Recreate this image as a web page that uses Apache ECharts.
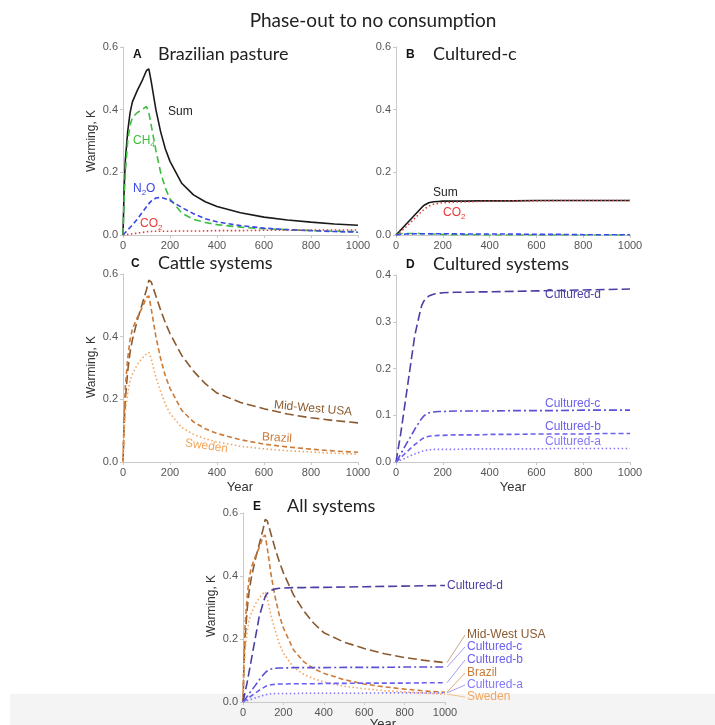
<!DOCTYPE html>
<html><head><meta charset="utf-8">
<script src="https://cdn.jsdelivr.net/npm/echarts@6/dist/echarts.min.js"></script>
<style>html,body{margin:0;padding:0;background:#fff}#c{width:715px;height:725px}</style>
</head><body><div id="c"></div>
<script>
// ---- data ----
const years = [0,5,10,20,30,40,60,80,100,110,120,140,160,180,200,250,300,350,400,500,600,700,800,900,1000];
const xTicks = [0,200,400,600,800,1000];
// Panel A: Brazilian pasture
const aSum = [0,0.15,0.24,0.33,0.39,0.425,0.46,0.49,0.525,0.53,0.49,0.40,0.33,0.275,0.235,0.165,0.128,0.106,0.091,0.071,0.057,0.048,0.041,0.035,0.031];
const aCH4 = [0,0.12,0.2,0.3,0.35,0.375,0.39,0.4,0.41,0.39,0.35,0.27,0.2,0.15,0.115,0.07,0.05,0.04,0.033,0.025,0.02,0.017,0.014,0.012,0.011];
const aN2O = [0,0.004,0.008,0.016,0.024,0.032,0.05,0.07,0.09,0.1,0.108,0.118,0.12,0.116,0.11,0.088,0.068,0.052,0.042,0.03,0.022,0.017,0.014,0.011,0.009];
const aCO2 = [0,0.0005,0.001,0.002,0.003,0.004,0.006,0.008,0.01,0.011,0.011,0.012,0.012,0.012,0.012,0.013,0.013,0.013,0.014,0.014,0.015,0.015,0.016,0.016,0.016];
// Panel B: Cultured-c
const bSum = [0,0.004,0.008,0.016,0.024,0.032,0.048,0.064,0.08,0.088,0.095,0.103,0.106,0.107,0.108,0.108,0.108,0.109,0.109,0.109,0.11,0.11,0.11,0.11,0.11];
const bCO2 = [0,0.002,0.005,0.011,0.017,0.024,0.038,0.053,0.068,0.075,0.082,0.092,0.098,0.101,0.103,0.105,0.106,0.107,0.108,0.109,0.109,0.11,0.11,0.11,0.11];
const bCH4 = [0,0.002,0.003,0.004,0.005,0.005,0.005,0.005,0.005,0.004,0.004,0.003,0.003,0.002,0.002,0.001,0.001,0.001,0,0,0,0,0,0,0];
const bN2O = [0,0.001,0.001,0.002,0.002,0.003,0.003,0.004,0.004,0.004,0.004,0.004,0.004,0.004,0.004,0.004,0.003,0.003,0.003,0.003,0.002,0.002,0.001,0.001,0.001];
// Cattle systems
const midWest = [0,0.12,0.2,0.29,0.35,0.39,0.45,0.5,0.55,0.58,0.575,0.53,0.485,0.445,0.41,0.34,0.29,0.25,0.22,0.19,0.17,0.153,0.141,0.132,0.125];
const brazil = aSum;
const sweden = [0,0.1,0.16,0.22,0.26,0.28,0.31,0.33,0.345,0.35,0.33,0.27,0.225,0.185,0.155,0.11,0.088,0.074,0.064,0.05,0.042,0.036,0.032,0.028,0.025];
// Cultured systems
const culD = [0,0.015,0.03,0.06,0.095,0.13,0.2,0.27,0.315,0.335,0.345,0.355,0.359,0.361,0.362,0.363,0.363,0.364,0.364,0.365,0.366,0.367,0.368,0.369,0.37];
const culC = [0,0.004,0.008,0.017,0.026,0.035,0.052,0.07,0.086,0.093,0.099,0.105,0.107,0.108,0.108,0.109,0.109,0.109,0.109,0.11,0.11,0.11,0.111,0.111,0.111];
const culB = [0,0.002,0.004,0.009,0.014,0.019,0.028,0.037,0.045,0.049,0.052,0.055,0.056,0.057,0.057,0.058,0.058,0.058,0.059,0.059,0.06,0.06,0.06,0.061,0.061];
const culA = [0,0.001,0.002,0.004,0.006,0.008,0.013,0.017,0.021,0.023,0.024,0.026,0.027,0.027,0.027,0.027,0.028,0.028,0.028,0.028,0.028,0.029,0.029,0.029,0.029];

// ---- styles ----
const C = {
  sum:'#1a1a1a', ch4:'#3cbf3c', n2o:'#3a46e8', co2:'#e83a3a',
  mw:'#8a5a2e', br:'#cc7a38', sw:'#f3a55c',
  cd:'#4a3fa2', cc:'#5a4fd6', cb:'#6a5fee', ca:'#8478f5'
};
const pair = v => years.map((y,i)=>[y,v[i]]);
const grids = [
  {left:123, top:47, width:235, height:188},
  {left:396, top:47, width:234, height:188},
  {left:123, top:274, width:235, height:188},
  {left:396, top:275, width:234, height:187},
  {left:243, top:513, width:202, height:189}
];
const yMax = [0.6,0.6,0.6,0.4,0.6];
const yInt = [0.2,0.2,0.2,0.1,0.2];
const axisCol = '#c8c8c8';
const lblCol = '#555';
const xAxis = grids.map((g,i)=>({
  gridIndex:i, type:'value', min:0, max:1000, interval:200,
  axisLine:{lineStyle:{color:axisCol}}, axisTick:{length:3,lineStyle:{color:axisCol}},
  splitLine:{show:false},
  axisLabel:{color:lblCol, fontSize:11, fontFamily:'Liberation Sans', margin:5, formatter:v=>String(v)}
}));
const yAxis = grids.map((g,i)=>({
  gridIndex:i, type:'value', min:0, max:yMax[i], interval:yInt[i],
  axisLine:{show:true, lineStyle:{color:axisCol}}, axisTick:{show:true,length:3,lineStyle:{color:axisCol}},
  splitLine:{show:false},
  axisLabel:{color:lblCol, fontSize:11, fontFamily:'Liberation Sans', margin:5, formatter:v=>v.toFixed(1)}
}));
function S(gi, data, color, type, width){
  return {type:'line', xAxisIndex:gi, yAxisIndex:gi, data:pair(data), showSymbol:false, symbol:'none',
    animation:false, lineStyle:{color:color, width:width||1.6, type:type}, z:3};
}
const LD = [9,4], SD=[5,3], DOT=[1.5,2.5], DD=[8,3,2,3];
const series = [
  S(0,aSum,C.sum,'solid',1.6), S(0,aCH4,C.ch4,[7,4]), S(0,aN2O,C.n2o,SD), S(0,aCO2,C.co2,DOT),
  S(1,bSum,C.sum,'solid',1.6), S(1,bCO2,C.co2,DOT), S(1,bCH4,C.ch4,[7,4]), S(1,bN2O,C.n2o,SD),
  S(2,midWest,C.mw,LD), S(2,brazil,C.br,SD), S(2,sweden,C.sw,DOT),
  S(3,culD,C.cd,LD), S(3,culC,C.cc,DD), S(3,culB,C.cb,SD), S(3,culA,C.ca,DOT),
  S(4,midWest,C.mw,LD), S(4,brazil,C.br,SD), S(4,sweden,C.sw,DOT),
  S(4,culD,C.cd,LD), S(4,culC,C.cc,DD), S(4,culB,C.cb,SD), S(4,culA,C.ca,DOT)
];
const tf = 'Lato';
function T(x,y,text,size,color,extra){
  return Object.assign({type:'text', x:x, y:y, style:Object.assign({text:text, fontSize:size, fill:color||'#222', fontFamily:'Liberation Sans', textVerticalAlign:'middle'}, extra||{})});
}
function RT(x,y,rich,color,rot){
  return {type:'text', x:x, y:y, rotation:rot||0, style:{text:rich, fill:color, fontFamily:'Liberation Sans', fontSize:12, textVerticalAlign:'middle',
    rich:{s:{fontSize:8, fill:color, fontFamily:'Liberation Sans', verticalAlign:'bottom', padding:[8,0,0,0]}}}};
}
const baseGraphic = [
  {type:'rect', z:-10, shape:{x:10,y:694,width:705,height:31}, style:{fill:'#f4f4f4'}},
  T(373,21,'Phase-out to no consumption',19,'#222',{fontFamily:tf, textAlign:'center'}),
  T(133,55,'A',12,'#111',{fontWeight:'bold'}), T(158,54,'Brazilian pasture',18,'#222',{fontFamily:tf}),
  T(406,55,'B',12,'#111',{fontWeight:'bold'}), T(433,54,'Cultured-c',18,'#222',{fontFamily:tf}),
  T(131,264,'C',12,'#111',{fontWeight:'bold'}), T(158,263,'Cattle systems',18,'#222',{fontFamily:tf}),
  T(406,265,'D',12,'#111',{fontWeight:'bold'}), T(433,264,'Cultured systems',18,'#222',{fontFamily:tf}),
  T(253,507,'E',12,'#111',{fontWeight:'bold'}), T(287,506,'All systems',18,'#222',{fontFamily:tf}),
  // y axis titles
  {type:'text', x:92, y:141, rotation:Math.PI/2, style:{text:'Warming, K', fontSize:12, fill:'#333', fontFamily:'Liberation Sans', textAlign:'center', textVerticalAlign:'middle'}},
  {type:'text', x:92, y:367, rotation:Math.PI/2, style:{text:'Warming, K', fontSize:12, fill:'#333', fontFamily:'Liberation Sans', textAlign:'center', textVerticalAlign:'middle'}},
  {type:'text', x:212, y:606, rotation:Math.PI/2, style:{text:'Warming, K', fontSize:12, fill:'#333', fontFamily:'Liberation Sans', textAlign:'center', textVerticalAlign:'middle'}},
  // x axis titles
  T(240,487,'Year',13,'#333',{textAlign:'center'}),
  T(513,487,'Year',13,'#333',{textAlign:'center'}),
  T(383,724,'Year',13,'#333',{textAlign:'center'}),
  // panel A labels
  T(168,112,'Sum',12,'#222'),
  RT(133,141,'CH{s|4}',C.ch4), RT(133,189,'N{s|2}O',C.n2o), RT(140,224,'CO{s|2}',C.co2),
  // panel B labels
  T(433,193,'Sum',12,'#222'), RT(443,213,'CO{s|2}',C.co2),
  // panel C labels
  {type:'text', x:274, y:405, rotation:-0.09, style:{text:'Mid-West USA', fontSize:12, fill:C.mw, fontFamily:'Liberation Sans', textVerticalAlign:'middle'}},
  {type:'text', x:262, y:437, rotation:-0.06, style:{text:'Brazil', fontSize:12, fill:C.br, fontFamily:'Liberation Sans', textVerticalAlign:'middle'}},
  {type:'text', x:185, y:443, rotation:-0.14, style:{text:'Sweden', fontSize:12, fill:C.sw, fontFamily:'Liberation Sans', textVerticalAlign:'middle'}},
  // panel D labels
  T(545,295,'Cultured-d',12,C.cd), T(545,404,'Cultured-c',12,C.cb), T(545,427,'Cultured-b',12,C.cb), T(545,442,'Cultured-a',12,C.ca),
  // panel E labels
  T(447,586,'Cultured-d',12,C.cd)
];
const eLabels = [
  ['Mid-West USA', midWest, 635, C.mw, '#c9a882'],
  ['Cultured-c', culC, 647, C.cb, '#a89ef5'],
  ['Cultured-b', culB, 660, C.cb, '#a89ef5'],
  ['Brazil', brazil, 673, C.br, '#e0a878'],
  ['Cultured-a', culA, 685, C.ca, '#a89ef5'],
  ['Sweden', sweden, 697, C.sw, '#f5c08f']
];
const chart = echarts.init(document.getElementById('c'), null, {renderer:'canvas'});
chart.setOption({backgroundColor:'#fff', animation:false, grid:grids, xAxis:xAxis, yAxis:yAxis, series:series, graphic:baseGraphic});
const extra = [];
eLabels.forEach(l=>{
  const p = chart.convertToPixel({xAxisIndex:4, yAxisIndex:4},[1000, l[1][l[1].length-1]]);
  extra.push({type:'polyline', shape:{points:[[p[0]+2,p[1]],[465,l[2]]]}, style:{stroke:l[4], lineWidth:1}});
  extra.push(T(467,l[2],l[0],12,l[3]));
});
chart.setOption({graphic:baseGraphic.concat(extra)}, {replaceMerge:['graphic']});
</script></body></html>
